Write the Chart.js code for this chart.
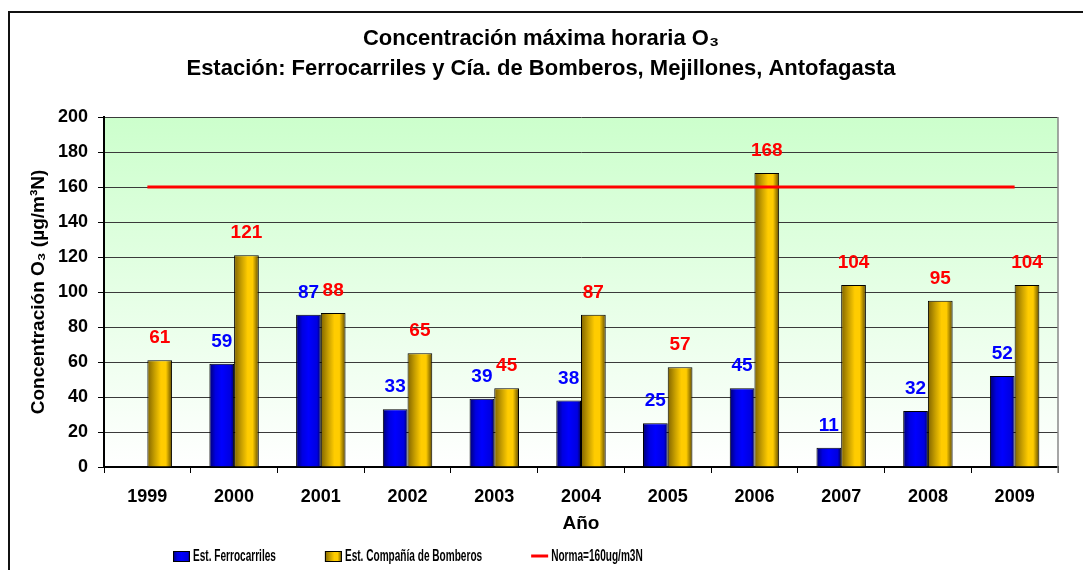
<!DOCTYPE html>
<html lang="es">
<head>
<meta charset="UTF-8" />
<title>Concentración máxima horaria O3</title>
<style>
  html, body { margin: 0; padding: 0; background: #fff; }
  #wrapper { width: 1083px; height: 570px; position: relative; }
</style>
</head>
<body>
<div id="wrapper">
  <canvas id="chart"></canvas>
</div>

<script src="https://cdn.jsdelivr.net/npm/chart.js@4.4.1/dist/chart.umd.min.js"></script>
<script>
// values
const years = ['1999', '2000', '2001', '2002', '2003', '2004', '2005', '2006', '2007', '2008', '2009'];
const ferrocarriles = [null, 59, 87, 33, 39, 38, 25, 45, 11, 32, 52];
const bomberos = [61, 121, 88, 65, 45, 87, 57, 168, 104, 95, 104];
const norma = [160, 160, 160, 160, 160, 160, 160, 160, 160, 160, 160];
const titleLines = ['Concentración máxima horaria O₃', 'Estación: Ferrocarriles y Cía. de Bomberos, Mejillones, Antofagasta'];
const seriesNames = ['Est. Ferrocarriles', 'Est. Compañía de Bomberos', 'Norma=160ug/m3N'];

const FONT = '"Liberation Sans", Arial, sans-serif';
const CAT_PCT = 0.57;

const blueStops = [[0, '#000070'], [0.25, '#0000e0'], [0.5, '#0000ff'], [0.85, '#0000e0'], [1, '#000060']];
const goldStops = [[0, '#806400'], [0.3, '#c8a000'], [0.55, '#ffcc00'], [0.75, '#ffcc00'], [1, '#5c4800']];

// horizontal shading across each bar, built from the scale
function barFill(stops, solid) {
    return function (c) {
        const chart = c.chart;
        const xs = chart.scales && chart.scales.x;
        if (!xs || !chart.chartArea || c.dataIndex === undefined) return solid;
        const bw = xs.width / years.length * CAT_PCT / 2;
        const left = xs.getPixelForValue(c.dataIndex) - bw + c.datasetIndex * bw;
        const g = chart.ctx.createLinearGradient(left, 0, left + bw, 0);
        stops.forEach(s => g.addColorStop(s[0], s[1]));
        return g;
    };
}

const backdrop = {
    id: 'backdrop',
    beforeDraw(chart) {
        const { ctx, chartArea: a } = chart;
        ctx.save();
        ctx.fillStyle = '#fff';
        ctx.fillRect(0, 0, chart.width, chart.height);
        const g = ctx.createLinearGradient(0, a.top, 0, a.bottom);
        g.addColorStop(0, '#ccffcc');
        g.addColorStop(1, '#ffffff');
        ctx.fillStyle = g;
        ctx.fillRect(a.left, a.top, a.right - a.left, a.bottom - a.top);
        // outer frame (runs off the right and bottom edge)
        ctx.strokeStyle = '#111';
        ctx.lineWidth = 2;
        ctx.beginPath();
        ctx.moveTo(9, chart.height + 5);
        ctx.lineTo(9, 12);
        ctx.lineTo(chart.width + 5, 12);
        ctx.stroke();
        ctx.restore();
    },
    afterDraw(chart) {
        const { ctx, chartArea: a } = chart;
        ctx.save();
        ctx.strokeStyle = '#888';
        ctx.lineWidth = 1.5;
        ctx.beginPath();
        ctx.moveTo(a.right, a.top);
        ctx.lineTo(a.right, a.bottom + 6);
        ctx.stroke();
        // titles
        ctx.fillStyle = '#000';
        ctx.textAlign = 'center';
        ctx.textBaseline = 'middle';
        ctx.font = 'bold 22px ' + FONT;
        ctx.fillText(titleLines[0], 541, 39);
        ctx.fillText(titleLines[1], 541, 69);
        ctx.restore();
    }
};

const valueLabels = {
    id: 'valueLabels',
    afterDatasetsDraw(chart) {
        const ctx = chart.ctx;
        ctx.save();
        ctx.font = 'bold 19px ' + FONT;
        ctx.textAlign = 'center';
        ctx.textBaseline = 'middle';
        [0, 1].forEach(di => {
            const ds = chart.data.datasets[di];
            ctx.fillStyle = di === 0 ? '#0000ff' : '#ff0000';
            chart.getDatasetMeta(di).data.forEach((el, i) => {
                if (ds.data[i] == null) return;
                ctx.fillText(String(ds.data[i]), el.x, el.y - 22);
            });
        });
        ctx.restore();
    }
};

// legend with the squeezed lettering of the original
const legendRow = {
    id: 'legendRow',
    afterDraw(chart) {
        const ctx = chart.ctx;
        const y = 556;
        let x = 173;
        ctx.save();
        ctx.font = 'bold 16px ' + FONT;
        ctx.textBaseline = 'middle';
        chart.data.datasets.forEach((ds, di) => {
            if (ds.type === 'line') {
                ctx.strokeStyle = ds.borderColor;
                ctx.lineWidth = 3;
                ctx.beginPath();
                ctx.moveTo(x, y);
                ctx.lineTo(x + 17, y);
                ctx.stroke();
            } else {
                const stops = di === 0 ? blueStops : goldStops;
                const g = ctx.createLinearGradient(x, 0, x + 17, 0);
                stops.forEach(s => g.addColorStop(s[0], s[1]));
                ctx.fillStyle = g;
                ctx.fillRect(x, y - 5, 17, 11);
                ctx.strokeStyle = '#000';
                ctx.lineWidth = 1;
                ctx.strokeRect(x + 0.5, y - 4.5, 16, 10);
            }
            const tx = x + 20;
            const w = ctx.measureText(ds.label).width * 0.63;
            ctx.save();
            ctx.translate(tx, y + 1);
            ctx.scale(0.63, 1);
            ctx.fillStyle = '#000';
            ctx.fillText(ds.label, 0, 0);
            ctx.restore();
            x = tx + w + 49;
        });
        ctx.restore();
    }
};

new Chart('chart', {
    data: {
        labels: years,
        datasets: [{
            type: 'bar',
            label: seriesNames[0],
            data: ferrocarriles,
            backgroundColor: barFill(blueStops, '#0000ff'),
            borderColor: '#000',
            borderWidth: 1,
            categoryPercentage: CAT_PCT,
            barPercentage: 1
        }, {
            type: 'bar',
            label: seriesNames[1],
            data: bomberos,
            backgroundColor: barFill(goldStops, '#ffcc00'),
            borderColor: '#000',
            borderWidth: 1,
            categoryPercentage: CAT_PCT,
            barPercentage: 1
        }, {
            type: 'line',
            label: seriesNames[2],
            data: norma,
            borderColor: '#ff0000',
            borderWidth: 3,
            pointRadius: 0,
            fill: false,
            order: -1
        }]
    },
    options: {
        responsive: true,
        maintainAspectRatio: false,
        animation: false,
        devicePixelRatio: 1,
        layout: { padding: { top: 117, right: 25, left: 0, bottom: 0 } },
        plugins: {
            legend: { display: false },
            title: { display: false },
            tooltip: { enabled: false }
        },
        scales: {
            x: {
                afterFit(s) { s.height = 103; },
                grid: { drawOnChartArea: false, tickLength: 6, color: '#000', offset: true },
                border: { color: '#000', width: 2 },
                ticks: { color: '#000', font: { family: FONT, size: 18, weight: 'bold' }, padding: 13 },
                title: {
                    display: true, text: 'Año', color: '#000',
                    font: { family: FONT, size: 19, weight: 'bold' },
                    padding: { top: 0, bottom: 35 }
                }
            },
            y: {
                afterFit(s) { s.width = 104; },
                min: 0,
                max: 200,
                grid: { color: '#3a3a3a', tickLength: 6, tickColor: '#000' },
                border: { color: '#000', width: 2 },
                ticks: { stepSize: 20, color: '#000', font: { family: FONT, size: 18, weight: 'bold' }, padding: 10 },
                title: {
                    display: true, text: 'Concentración O₃ (µg/m³N)', color: '#000',
                    font: { family: FONT, size: 19, weight: 'bold' },
                    padding: { top: 27, bottom: 0 }
                }
            }
        }
    },
    plugins: [backdrop, valueLabels, legendRow]
});
</script>
</body>
</html>
